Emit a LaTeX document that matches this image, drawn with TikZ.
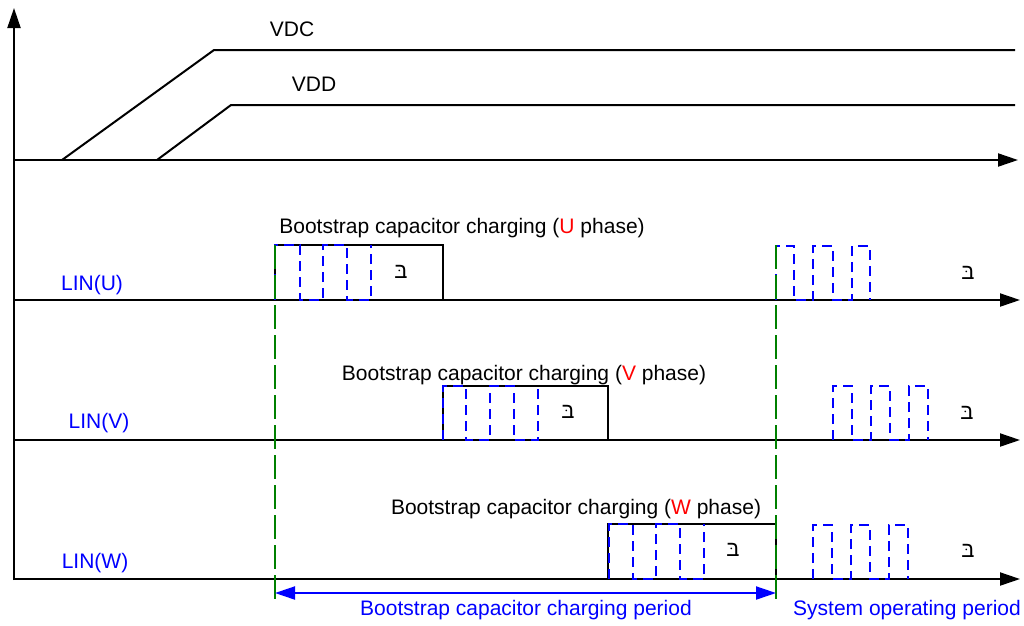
\documentclass[tikz,border=0pt]{standalone}
\usepackage{fontspec}
\setmainfont{Liberation Sans}
\newfontfamily\hebfont[Script=Hebrew]{Liberation Sans}
\TeXXeTstate=1
\usetikzlibrary{arrows.meta}
\definecolor{lblue}{RGB}{0,0,255}
\definecolor{lgreen}{RGB}{0,128,0}
\definecolor{lred}{RGB}{255,0,0}
\begin{document}
\begin{tikzpicture}[x=1pt,y=-1pt,
  axis/.style={line width=2pt,-{Triangle[length=20pt,width=13pt]}},
  sig/.style={line width=2pt},
  pulse/.style={line width=2.5pt,lblue,dash pattern=on 10pt off 6pt},
  gline/.style={line width=2pt,lgreen,dash pattern=on 24pt off 6pt},
  lbl/.style={font=\fontsize{21}{24}\selectfont,inner sep=0pt},
  blbl/.style={lbl,text=lblue},
  bet/.style={font=\fontsize{22}{24}\selectfont\hebfont,inner sep=0pt}
]
\useasboundingbox (0,0) rectangle (1024,625);
% axes
\coordinate (o) at (14,580);
\coordinate (ytop) at (14,8);
\draw[axis] (o) -- (ytop);
\coordinate (a0s) at (14,160); \coordinate (a0e) at (1018,160);
\coordinate (a1s) at (14,300); \coordinate (a1e) at (1020,300);
\coordinate (a2s) at (14,440); \coordinate (a2e) at (1020,440);
\coordinate (a3s) at (14,579); \coordinate (a3e) at (1020,579);
\draw[axis] (a0s) -- (a0e);
\draw[axis] (a1s) -- (a1e);
\draw[axis] (a2s) -- (a2e);
\draw[axis] (a3s) -- (a3e);
% VDC / VDD
\draw[sig] (62,160) -- (214,50) -- (1015,50);
\draw[sig] (157,160) -- (231,105) -- (1015,105);
\node[lbl] (vdc) at (292,29) {VDC};
\node[lbl] (vdd) at (314,84) {VDD};
% row labels
\node[blbl] (lu) at (92,285) {LIN(U)};
\node[blbl] (lv) at (99,423) {LIN(V)};
\node[blbl] (lw) at (95,563) {LIN(W)};
% charging boxes
\draw[sig] (275,300) -- (275,245) -- (443,245) -- (443,300);
\draw[sig] (443,440) -- (443,386) -- (608,386) -- (608,440);
\draw[sig] (608,579) -- (608,524) -- (776,524) -- (776,579);
% pulses in charging boxes
\draw[pulse] (275,300) -- (275,245) -- (300,245) -- (300,300) -- (323,300) -- (323,245) -- (347,245) -- (347,300) -- (371,300) -- (371,245);
\draw[pulse] (443,440) -- (443,386) -- (466,386) -- (466,440) -- (490,440) -- (490,386) -- (514,386) -- (514,440) -- (538,440) -- (538,386);
\draw[pulse] (609,579) -- (609,524) -- (633,524) -- (633,579) -- (656,579) -- (656,524) -- (680,524) -- (680,579) -- (704,579) -- (704,524);
% pulses in operating period
\draw[pulse] (776,300) -- (776,246) -- (794,246) -- (794,300) -- (813,300) -- (813,246) -- (833,246) -- (833,300) -- (852,300) -- (852,246) -- (870,246) -- (870,300);
\draw[pulse] (833,440) -- (833,386) -- (852,386) -- (852,440) -- (871,440) -- (871,386) -- (890,386) -- (890,440) -- (909,440) -- (909,386) -- (928,386) -- (928,440);
\draw[pulse] (813,579) -- (813,525) -- (832,525) -- (832,579) -- (851,579) -- (851,525) -- (870,525) -- (870,579) -- (889,579) -- (889,525) -- (908,525) -- (908,579);
% bet glyphs
\node[bet] (b1) at (401,272) {\beginR בּ\endR};
\node[bet] (b2) at (968,273) {\beginR בּ\endR};
\node[bet] (b3) at (568,412) {\beginR בּ\endR};
\node[bet] (b4) at (967,413) {\beginR בּ\endR};
\node[bet] (b5) at (733,550) {\beginR בּ\endR};
\node[bet] (b6) at (968,551) {\beginR בּ\endR};
% phase labels
\node[lbl] (tu) at (462,228) {Bootstrap capacitor charging (\textcolor{lred}{U} phase)};
\node[lbl] (tv) at (524,375) {Bootstrap capacitor charging (\textcolor{lred}{V} phase)};
\node[lbl] (tw) at (576,509) {Bootstrap capacitor charging (\textcolor{lred}{W} phase)};
% green dashed boundaries
\coordinate (g1t) at (275,245); \coordinate (g1b) at (275,602);
\coordinate (g2t) at (776,245); \coordinate (g2b) at (776,602);
\draw[gline] (g1t) -- (g1b);
\draw[gline] (g2t) -- (g2b);
% period arrow
\coordinate (pa) at (275,593); \coordinate (pb) at (776,593);
\draw[line width=2pt,lblue,{Triangle[length=20pt,width=13pt]}-{Triangle[length=20pt,width=13pt]}] (pa) -- (pb);
\node[blbl] (pc) at (526,610) {Bootstrap capacitor charging period};
\node[blbl] (po) at (907,610) {System operating period};
\end{tikzpicture}
\end{document}
